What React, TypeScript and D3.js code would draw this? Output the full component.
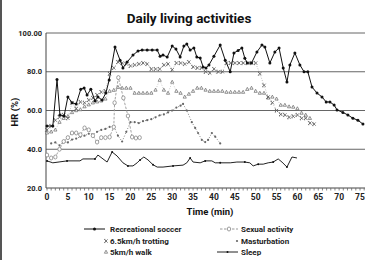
import React, { useEffect, useRef } from 'react';
import * as d3 from 'd3';

type Pt = [number, number];

// heart rate (% of max) against time (min), one array per activity
const soccer: Pt[] = [
  [0, 52], [1.4, 52], [2.4, 76], [3.1, 57.7], [4.1, 57.2], [5, 67], [6, 64], [7, 63.4], [8.1, 71], [8.9, 71.6],
  [9.6, 68], [10.5, 71], [11.5, 65], [12.2, 67], [13.2, 65.4], [14.1, 69], [14.9, 75.7], [16.3, 92.8], [17.5, 86],
  [18.2, 82], [19.2, 85], [20.6, 88.6], [21.8, 90.7], [22.8, 91.2], [24, 91.2], [25.2, 91.2], [26.4, 91.2], [27.1, 88],
  [27.8, 88.6], [28.8, 87.6], [30, 93.3], [30.9, 91.7], [31.9, 87.6], [32.8, 93.3], [33.5, 94.3], [34.3, 91.2],
  [35.2, 92.3], [35.9, 87.6], [36.7, 87.1], [37.4, 82.5], [38.1, 82], [38.8, 83.5], [40, 88], [41.5, 93.8], [42.7, 86],
  [43.9, 80], [44.8, 89.7], [45.8, 91], [46.7, 92.3], [47.4, 87], [48, 84.5], [49, 84.5], [50.3, 90.2], [51.5, 93.8],
  [52.2, 92.8], [53.4, 84.5], [54.6, 90.2], [55.6, 92.3], [56.6, 82], [57.5, 74.7], [58.2, 83.5], [59.4, 89.7],
  [60.6, 83.5], [61.6, 80], [62.5, 80], [63.5, 72.1], [64.7, 69], [65.9, 67], [66.9, 64.4], [67.8, 64.4], [68.8, 62.8],
  [69.5, 60.3], [70.9, 59], [72.1, 57.7], [73.3, 56], [74.5, 55], [75.7, 53],
];

const trotting: Pt[] = [
  [0, 50], [1, 52], [2, 55], [3, 56.6], [4, 57.7], [5, 56], [6, 64], [7, 61], [8, 64.4], [9, 64], [10, 65.4],
  [11, 66.5], [12, 68], [13, 69.5], [14, 70], [15, 79], [16, 82], [17, 85], [18, 84.5], [19, 84], [20, 83], [21, 83.5],
  [22, 84], [23, 84.5], [24, 84], [25, 81.4], [26, 81.4], [27, 81.4], [28, 83.5], [29, 84], [30, 81], [31, 84.5],
  [32, 84.5], [33, 84], [34, 85], [35, 82.5], [36, 82], [37, 82], [38, 80], [39, 79.4], [40, 81.4], [41, 80], [42, 80],
  [43, 84.5], [44, 84.5], [45, 84.5], [46, 84.5], [47, 84.5], [48, 84.5], [49, 84.5], [50, 84.5], [51, 79], [52, 73],
  [53, 67], [54, 64], [55, 60], [56, 58], [57, 57.7], [58, 56.5], [59, 57], [60, 57.7], [61, 56], [62, 56], [63, 53.5],
  [64, 53],
];

const walk: Pt[] = [
  [0, 48.5], [1, 49], [2, 50], [3, 54], [4, 56], [5, 57], [6, 59], [7, 60], [8, 60.5], [9, 62], [10, 63], [11, 64],
  [12, 64.5], [13, 65], [14, 66], [15, 70], [16, 70.5], [17, 72], [18, 71.6], [19, 71.6], [20, 71.6], [21, 69], [22, 69],
  [23, 69], [24, 69], [25, 69], [26, 70.6], [27, 75.7], [28, 70.6], [29, 69], [30, 74.7], [31, 70], [32, 69], [33, 67],
  [34, 68.5], [35, 70], [36, 71.6], [37, 71.6], [38, 70.6], [39, 70], [40, 70], [41, 70], [42, 70], [43, 69.5],
  [44, 69.5], [45, 69.5], [46, 69.5], [47, 69.5], [48, 71], [49, 71.6], [50, 70], [51, 69], [52, 69], [53, 66.5],
  [54, 67], [55, 66], [56, 62.8], [57, 62.8], [58, 62], [59, 61.8], [60, 61], [61, 58.7], [62, 57.7], [63, 56],
];

const sexual: Pt[] = [
  [0, 37], [1, 35.5], [2, 36], [3, 40], [4, 44], [5, 46], [6, 48.4], [7, 48.4], [8, 47.5], [9, 51], [10, 50],
  [11, 47], [12, 43.7], [13, 46], [14, 46], [15, 46.3], [16, 51.5], [16.2, 64], [17.1, 77], [18.3, 66.5], [19.4, 57.2],
  [20.4, 46.3], [21.3, 45.8], [22.2, 46],
];

const masturbation: Pt[] = [
  [1, 43], [2, 43.5], [3, 42], [4, 44], [5, 43.5], [6, 45], [7, 45.5], [8, 46.5], [9, 47], [10, 48], [11, 47.5],
  [12, 49], [13, 50], [14, 50.5], [15, 51.5], [16, 52], [17, 47], [18, 44], [19, 49], [20, 54], [21, 54], [22, 53.5],
  [23, 54.5], [24, 55], [25, 55.5], [26, 56.5], [27, 57.5], [28, 58], [29, 59], [30, 60], [31, 61.5], [32, 62.5],
  [32.6, 63.4], [33.5, 60], [34.7, 54], [35.5, 51], [36.2, 48.4], [37.1, 44.8], [37.9, 43.7], [38.6, 44.8],
  [39.5, 48.4], [40.3, 46.5], [41.5, 43],
];

const sleep: Pt[] = [
  [0, 34], [1.4, 33], [3.1, 33.5], [4.8, 34], [7.9, 34], [8.6, 35], [11.5, 35], [12.2, 37], [14.4, 33.4], [15.6, 38.6],
  [16.8, 36.5], [18.2, 33], [19.4, 31.4], [20.6, 31.4], [21.6, 33], [22.3, 34.5], [23.2, 36], [24.2, 34.5], [25.4, 32],
  [26.4, 30.8], [27.8, 30.8], [30.2, 31.4], [32.6, 31.8], [33.5, 33], [34.3, 35.5], [35, 33.4], [36.7, 33], [37.9, 34],
  [39.5, 34], [40.3, 33], [41.5, 33], [43.9, 33], [45.5, 33.4], [47.4, 33.4], [48.6, 33], [49.4, 31.4], [50.6, 32.3],
  [51.8, 32.3], [53, 33], [54.2, 33.4], [55.4, 35], [56.3, 33.4], [57.5, 30.8], [58.7, 36], [59.9, 35.5],
];

const yTicks = [20, 40, 60, 80, 100];
const yTickLabels = ['20.0', '40.0', '60.0', '80.0', '100.00'];
const xTicks = d3.range(0, 80, 5);

const FONT = 'Roboto, "Noto Sans", sans-serif';

export default function App() {
  const ref = useRef<SVGSVGElement>(null);

  useEffect(() => {
    const svg = d3.select(ref.current);
    svg.selectAll('*').remove();

    const x = d3.scaleLinear().domain([0, 75]).range([47, 360]);
    const y = d3.scaleLinear().domain([20, 100]).range([188, 33]);
    const left = 46, right = 365;

    svg.append('rect').attr('width', 376).attr('height', 260).attr('fill', '#fff');
    // frame edge on the left
    svg.append('line').attr('x1', 1).attr('x2', 1).attr('y1', 0).attr('y2', 260)
      .attr('stroke', '#555').attr('stroke-width', 2);

    svg.append('text')
      .attr('x', 189).attr('y', 23)
      .attr('text-anchor', 'middle')
      .attr('font-family', FONT).attr('font-weight', 700).attr('font-size', 13.5)
      .attr('fill', '#111')
      .text('Daily living activities');

    // horizontal gridlines
    svg.append('g').selectAll('line').data(yTicks.filter(d => d > 20)).join('line')
      .attr('x1', left).attr('x2', right)
      .attr('y1', d => y(d)).attr('y2', d => y(d))
      .attr('stroke', '#666').attr('stroke-width', 1);

    // y axis
    svg.append('line').attr('x1', left).attr('x2', left).attr('y1', y(100)).attr('y2', y(20))
      .attr('stroke', '#444').attr('stroke-width', 1);
    svg.append('g').selectAll('text').data(yTicks).join('text')
      .attr('x', 42).attr('y', d => y(d) + 2.5)
      .attr('text-anchor', 'end')
      .attr('font-family', FONT).attr('font-weight', 700).attr('font-size', 7.5)
      .attr('fill', '#222')
      .text((d, i) => yTickLabels[i]);

    // x axis with minute ticks
    svg.append('line').attr('x1', left).attr('x2', right).attr('y1', y(20)).attr('y2', y(20))
      .attr('stroke', '#444').attr('stroke-width', 1);
    svg.append('g').selectAll('line').data(d3.range(0, 77)).join('line')
      .attr('x1', d => x(d)).attr('x2', d => x(d))
      .attr('y1', y(20)).attr('y2', y(20) + 2.5)
      .attr('stroke', '#666').attr('stroke-width', 0.8);
    svg.append('g').selectAll('text').data(xTicks).join('text')
      .attr('x', d => x(d)).attr('y', 200)
      .attr('text-anchor', 'middle')
      .attr('font-family', FONT).attr('font-weight', 700).attr('font-size', 8.5)
      .attr('fill', '#222')
      .text(d => d);

    svg.append('text')
      .attr('x', 210).attr('y', 215)
      .attr('text-anchor', 'middle')
      .attr('font-family', FONT).attr('font-weight', 700).attr('font-size', 9.5)
      .attr('fill', '#111')
      .text('Time (min)');

    svg.append('text')
      .attr('transform', 'translate(18,112) rotate(-90)')
      .attr('text-anchor', 'middle')
      .attr('font-family', FONT).attr('font-weight', 700).attr('font-size', 9.5)
      .attr('fill', '#111')
      .text('HR (%)');

    const line = d3.line<Pt>().x(d => x(d[0])).y(d => y(d[1]));
    const plot = svg.append('g');

    const drawLine = (data: Pt[], stroke: string, width: number, dash: string | null) => {
      plot.append('path').datum(data)
        .attr('d', line)
        .attr('fill', 'none')
        .attr('stroke', stroke)
        .attr('stroke-width', width)
        .attr('stroke-dasharray', dash);
    };

    // marker painters, shared with the legend
    const cross = (g: d3.Selection<SVGGElement, unknown, null, undefined>, cx: number, cy: number) => {
      g.append('path')
        .attr('d', `M${cx - 1.6},${cy - 1.6}L${cx + 1.6},${cy + 1.6}M${cx + 1.6},${cy - 1.6}L${cx - 1.6},${cy + 1.6}M${cx - 1.6},${cy - 1.6}h1M${cx - 1.6},${cy + 1.6}h1`)
        .attr('stroke', '#555').attr('stroke-width', 0.8).attr('fill', 'none');
    };
    const tri = (g: d3.Selection<SVGGElement, unknown, null, undefined>, cx: number, cy: number) => {
      g.append('path')
        .attr('d', `M${cx},${cy - 1.8}L${cx + 1.6},${cy + 1.2}L${cx - 1.6},${cy + 1.2}Z`)
        .attr('stroke', '#666').attr('stroke-width', 0.7).attr('fill', '#fff');
    };
    const diamond = (g: d3.Selection<SVGGElement, unknown, null, undefined>, cx: number, cy: number) => {
      g.append('ellipse')
        .attr('cx', cx).attr('cy', cy).attr('rx', 1.7).attr('ry', 2)
        .attr('stroke', '#777').attr('stroke-width', 0.7).attr('fill', '#fff');
    };
    const plus = (g: d3.Selection<SVGGElement, unknown, null, undefined>, cx: number, cy: number) => {
      g.append('circle').attr('cx', cx).attr('cy', cy).attr('r', 1.1).attr('fill', '#666');
    };
    const dot = (r: number) => (g: d3.Selection<SVGGElement, unknown, null, undefined>, cx: number, cy: number) => {
      g.append('circle').attr('cx', cx).attr('cy', cy).attr('r', r).attr('fill', '#111');
    };

    const drawMarks = (data: Pt[], mark: (g: any, cx: number, cy: number) => void) => {
      const g = plot.append('g');
      data.forEach(d => mark(g, x(d[0]), y(d[1])));
    };

    drawLine(sleep, '#222', 1, null);
    drawMarks(sleep.filter((d, i) => i % 3 === 0), dot(1));

    drawLine(masturbation, '#777', 0.9, '1,1.8');
    drawMarks(masturbation, plus);

    drawLine(walk, '#aaa', 0.6, '1,1.5');
    drawMarks(walk, tri);

    drawLine(trotting, '#999', 0.6, '1,1.5');
    drawMarks(trotting, cross);

    drawLine(sexual, '#999', 0.9, '2.5,1.5');
    drawMarks(sexual, diamond);

    drawLine(soccer, '#111', 1, null);
    drawMarks(soccer, dot(1.5));

    // legend
    const leg = svg.append('g');
    const legText = (tx: number, ty: number, s: string) => {
      leg.append('text')
        .attr('x', tx).attr('y', ty)
        .attr('font-family', FONT).attr('font-weight', 700).attr('font-size', 8)
        .attr('fill', '#222')
        .text(s);
    };
    leg.append('line').attr('x1', 84).attr('x2', 105).attr('y1', 229).attr('y2', 229).attr('stroke', '#111');
    dot(1.5)(leg as any, 94.5, 229);
    legText(110, 232, 'Recreational soccer');
    cross(leg as any, 106, 241);
    legText(110, 244, '6.5km/h trotting');
    tri(leg as any, 106, 252);
    legText(110, 255, '5km/h walk');

    leg.append('line').attr('x1', 220).attr('x2', 238).attr('y1', 229).attr('y2', 229)
      .attr('stroke', '#999').attr('stroke-dasharray', '2.5,1.5');
    diamond(leg as any, 229, 229);
    legText(241, 232, 'Sexual activity');
    plus(leg as any, 237, 241);
    legText(241, 244, 'Masturbation');
    leg.append('line').attr('x1', 217).attr('x2', 238).attr('y1', 252).attr('y2', 252).attr('stroke', '#222');
    dot(1)(leg as any, 227.5, 252);
    legText(241, 255, 'Sleep');
  }, []);

  return (
    <div style={{ position: 'absolute', left: 0, top: 0 }}>
      <svg ref={ref} width={376} height={260} style={{ display: 'block' }} />
    </div>
  );
}
